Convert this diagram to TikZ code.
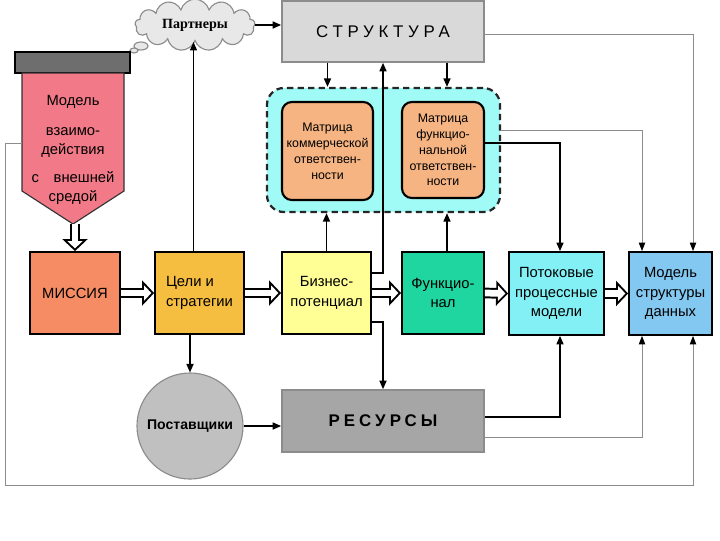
\documentclass[tikz,border=0pt]{standalone}
\usepackage{fontspec}
\setmainfont{Liberation Sans}
\newfontfamily\timesfont{Liberation Serif}
\usetikzlibrary{shapes.symbols,shapes.geometric,arrows.meta,calc}
\definecolor{pinkc}{RGB}{242,122,136}
\definecolor{barc}{RGB}{110,110,110}
\definecolor{misc}{RGB}{246,140,100}
\definecolor{goalc}{RGB}{246,190,64}
\definecolor{bizc}{RGB}{255,255,150}
\definecolor{funcc}{RGB}{32,214,160}
\definecolor{flowc}{RGB}{130,240,245}
\definecolor{datac}{RGB}{130,200,240}
\definecolor{matc}{RGB}{245,180,130}
\definecolor{contc}{RGB}{160,250,245}
\definecolor{structc}{RGB}{217,217,217}
\definecolor{resc}{RGB}{166,166,166}
\definecolor{suppc}{RGB}{192,192,192}
\definecolor{cloudc}{RGB}{232,232,232}
\definecolor{linegray}{RGB}{140,140,140}
\newcommand{\blockarrow}[2]{%
  \draw[dblout] #1 -- #2;
  \draw[dblin] #1 -- #2;}
\begin{document}
\begin{tikzpicture}[x=0.025cm,y=-0.025cm,
  box/.style={draw=black,line width=1.3pt,inner sep=0pt,align=center,font=\fontsize{10.5}{14}\selectfont},
  graybox/.style={draw=linegray,line width=1.2pt,inner sep=0pt,align=center},
  mat/.style={draw=black,line width=1.5pt,rounded corners=7pt,fill=matc,inner sep=0pt,align=center,font=\fontsize{8.8}{11.3}\selectfont},
  arr/.style={draw=black,line width=1pt,-{Triangle[length=6pt,width=5pt]}},
  garr/.style={draw=linegray,line width=0.7pt,-{Triangle[length=6pt,width=4.5pt,black]}},
  dblout/.style={draw=black,line width=7.6pt,-{Triangle[length=8.5pt,width=18pt,line width=0pt]}},
  dblin/.style={draw=white,line width=4.8pt,shorten >=1.95pt,-{Triangle[length=5.2pt,width=11pt,line width=0pt]}},
]
\useasboundingbox (0,0) rectangle (720,540);

% container with matrices
\node[draw=black!85,line width=1.6pt,dash pattern=on 4.5pt off 3pt,rounded corners=12pt,fill=contc,minimum width=5.825cm,minimum height=3.1cm] (cont) at (383.5,150) {};
\node[mat,minimum width=2.275cm,minimum height=2.45cm] (m1) at (327.5,151) {Матрица\\коммерческой\\ответствен-\\ности};
\node[mat,minimum width=2.05cm,minimum height=2.4cm] (m2) at (443,150) {Матрица\\функцио-\\нальной\\ответствен-\\ности};

% top
\node[cloud,cloud puffs=13,aspect=2.6,draw=linegray,line width=0.8pt,fill=cloudc,minimum width=3.0cm,minimum height=1.2cm,inner sep=0pt,font=\timesfont\bfseries\fontsize{10}{12}\selectfont] (cloud) at (195,25) {Партнеры};
\draw[draw=linegray,line width=0.8pt,fill=cloudc] (141,46) ellipse (7 and 4);
\draw[draw=linegray,line width=0.8pt,fill=cloudc] (134,50.5) ellipse (4 and 2.5);
\node[graybox,fill=structc,minimum width=5.05cm,minimum height=1.525cm,font=\fontsize{12}{14}\selectfont\addfontfeature{LetterSpace=28}] (struct) at (383,31.5) {СТРУКТУРА};

% interaction model
\node[draw=black,line width=1.5pt,fill=barc,minimum width=2.875cm,minimum height=0.525cm,inner sep=0pt] (bar) at (72.5,62.5) {};
\draw[draw=black!80,line width=0.8pt,fill=pinkc] (22,73) -- (124,73) -- (124,191) -- (73,224) -- (22,191) -- cycle;
\coordinate (ptip) at (73,224);
\coordinate (pleft) at (22,143);
\node[align=center,font=\fontsize{10.5}{13.5}\selectfont] (ptext) at (73,150) {Модель\\[7.8pt]взаимо-\\действия\\[6.5pt]с\quad внешней\\средой};

% main row
\node[box,fill=misc,minimum width=2.25cm,minimum height=2.05cm] (mis) at (75,293) {МИССИЯ};
\node[box,fill=goalc,minimum width=2.225cm,minimum height=2.05cm,align=left] (goal) at (199.5,293) {Цели и\\стратегии};
\node[box,fill=bizc,minimum width=2.225cm,minimum height=2.05cm] (biz) at (326.5,293) {Бизнес-\\потенциал};
\node[box,fill=funcc,minimum width=2.05cm,minimum height=2.05cm] (func) at (443,293) {Функцио-\\нал};
\node[box,fill=flowc,minimum width=2.375cm,minimum height=2.075cm] (flow) at (556.5,293.5) {Потоковые\\процессные\\модели};
\node[box,fill=datac,minimum width=2.075cm,minimum height=2.075cm] (data) at (670.5,293.5) {Модель\\структуры\\данных};

% bottom
\node[circle,draw=linegray,line width=0.8pt,fill=suppc,minimum size=2.65cm,inner sep=0pt,font=\bfseries\fontsize{10}{12}\selectfont] (supp) at (190,426) {Поставщики};
\node[graybox,fill=resc,minimum width=5.05cm,minimum height=1.55cm,font=\bfseries\fontsize{12}{14}\selectfont\addfontfeature{LetterSpace=24}] (res) at (383,421) {РЕСУРСЫ};

% block (outlined) arrows
\blockarrow{(mis.north |- ptip)}{(mis.north)}
\blockarrow{(mis.east)}{(goal.west)}
\blockarrow{(goal.east)}{(biz.west)}
\blockarrow{(biz.east)}{(func.west)}
\blockarrow{(func.east)}{(flow.west)}
\blockarrow{(flow.east)}{(data.west)}

% black arrows
\draw[arr] (cloud.east) -- (struct.west |- cloud.east);
\draw[arr] (m1.north |- struct.south) -- (m1.north |- cont.north);
\draw[arr] ($(m2.north |- struct.south)+(4,0)$) -- ($(m2.north |- cont.north)+(4,0)$);
\draw[arr] (biz.north) -- (biz.north |- cont.south);
\draw[arr] ($(func.north)+(4,0)$) -- ($(func.north |- cont.south)+(4,0)$);
\draw[arr] ($(biz.east)+(0,-20)$) -| (struct.south);
\draw[arr] ($(biz.east)+(0,29)$) -| (res.north);
\draw[arr] ($(goal.north)+(-6,0)$) -- ($(goal.north |- cloud.south)+(-6,0)$);
\draw[arr] (supp.north |- goal.south) -- (supp.north);
\draw[arr] (supp.east) -- (res.west |- supp.east);
\draw[arr] ($(res.east)+(0,-4)$) -| ($(flow.south)+(3.5,0)$);
\draw[arr] ($(m2.east)+(0,-7)$) -| ($(flow.north)+(3.5,0)$);

% gray arrows
\draw[garr] ($(struct.east)+(0,3)$) -| ($(data.north)+(22.5,0)$);
\draw[garr] ($(cont.east)+(0,-20)$) -| ($(data.north)+(-28.5,0)$);
\draw[garr] ($(res.east)+(0,16)$) -| ($(data.south)+(-28.5,0)$);
\draw[garr] (pleft) -| (5,485) -| ($(data.south)+(22.5,0)$);
\end{tikzpicture}
\end{document}
